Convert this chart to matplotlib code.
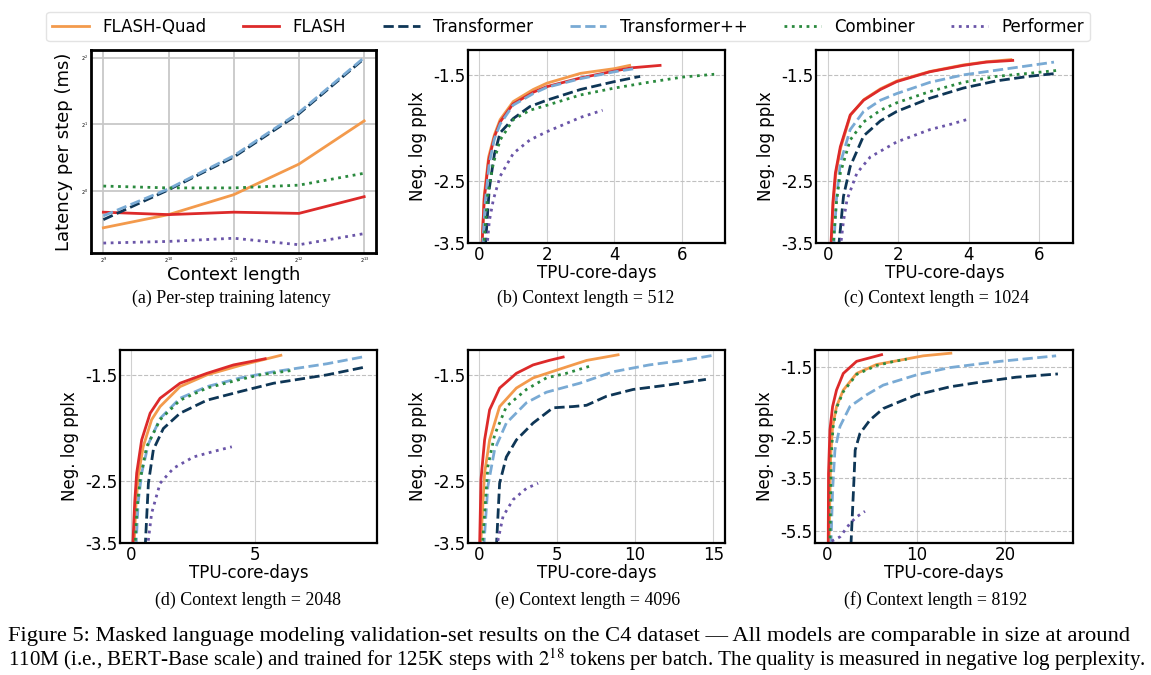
import numpy as np
import matplotlib.pyplot as plt
from matplotlib.lines import Line2D

plt.rcParams['axes.unicode_minus'] = False
plt.rcParams['mathtext.fontset'] = 'stix'

models = ['FLASH-Quad', 'FLASH', 'Transformer', 'Transformer++', 'Combiner', 'Performer']
colors = ['#f39a4c', '#dd2a2a', '#0e3656', '#79aad4', '#2a8a3e', '#6a55a8']
styles = ['-', '-', '--', '--', ':', ':']

# (a) latency per step (ms) vs context length
ctx_lens = [512, 1024, 2048, 4096, 8192]
latency = {
    'FLASH-Quad': [0.68, 0.78, 0.96, 1.32, 2.07],
    'FLASH': [0.80, 0.78, 0.80, 0.79, 0.94],
    'Transformer': [0.74, 1.01, 1.42, 2.23, 3.96],
    'Transformer++': [0.77, 1.02, 1.44, 2.26, 4.00],
    'Combiner': [1.05, 1.03, 1.03, 1.06, 1.20],
    'Performer': [0.58, 0.59, 0.61, 0.57, 0.64],
}

# (b)-(f) neg. log pplx vs TPU-core-days: model -> (x, y)
ctx512 = {
    'FLASH-Quad': ([0.08, 0.15, 0.28, 0.45, 0.62, 1.01, 1.6, 2.0, 3.0, 4.0, 4.45],
                   [-3.6, -2.7, -2.21, -1.98, -1.84, -1.69, -1.60, -1.556, -1.49, -1.46, -1.44]),
    'FLASH': ([0.08, 0.15, 0.28, 0.45, 0.62, 1.0, 1.6, 2.0, 3.0, 4.0, 4.5, 5.35],
              [-3.6, -2.75, -2.25, -2.0, -1.86, -1.71, -1.62, -1.58, -1.52, -1.475, -1.455, -1.44]),
    'Transformer': ([0.18, 0.3, 0.45, 0.62, 1.01, 1.5, 2.0, 3.0, 4.0, 4.76],
                    [-3.6, -2.6, -2.18, -1.96, -1.83, -1.73, -1.68, -1.60, -1.545, -1.51]),
    'Transformer++': ([0.1, 0.18, 0.3, 0.45, 0.62, 1.0, 1.6, 2.0, 3.0, 4.0, 4.6],
                      [-3.6, -2.8, -2.28, -2.02, -1.88, -1.72, -1.63, -1.585, -1.525, -1.48, -1.46]),
    'Combiner': ([0.13, 0.25, 0.42, 0.62, 1.01, 1.5, 2.0, 3.0, 4.0, 5.0, 6.0, 6.95],
                 [-3.6, -2.7, -2.28, -2.03, -1.84, -1.76, -1.72, -1.64, -1.59, -1.55, -1.515, -1.496]),
    'Performer': ([0.23, 0.3, 0.42, 0.62, 1.01, 1.5, 2.0, 3.0, 3.65],
                  [-3.6, -3.1, -2.76, -2.44, -2.17, -2.03, -1.95, -1.82, -1.76]),
}
ctx1024 = {
    'FLASH-Quad': ([0.1, 0.16, 0.23, 0.37, 0.65, 1.03, 1.5, 1.97, 2.9, 3.85, 4.5, 5.2],
                   [-3.6, -2.8, -2.41, -2.11, -1.80, -1.675, -1.595, -1.54, -1.478, -1.437, -1.418, -1.405]),
    'FLASH': ([0.09, 0.15, 0.22, 0.36, 0.64, 1.02, 1.5, 1.96, 2.9, 3.85, 4.5, 5.25],
              [-3.6, -2.8, -2.40, -2.10, -1.80, -1.68, -1.60, -1.545, -1.48, -1.44, -1.42, -1.41]),
    'Transformer': ([0.31, 0.45, 0.64, 1.02, 1.5, 1.96, 2.9, 3.85, 4.79, 5.7, 6.5],
                    [-3.6, -2.71, -2.32, -1.99, -1.85, -1.77, -1.665, -1.59, -1.54, -1.51, -1.49]),
    'Transformer++': ([0.17, 0.25, 0.36, 0.64, 1.02, 1.5, 1.96, 2.9, 3.85, 4.79, 5.6, 6.42],
                      [-3.6, -2.75, -2.28, -1.93, -1.77, -1.68, -1.63, -1.55, -1.50, -1.47, -1.445, -1.42]),
    'Combiner': ([0.15, 0.25, 0.36, 0.64, 1.02, 1.5, 1.96, 2.9, 3.85, 4.79, 5.7, 6.57],
                 [-3.6, -2.8, -2.40, -2.03, -1.86, -1.76, -1.70, -1.615, -1.55, -1.51, -1.49, -1.47]),
    'Performer': ([0.36, 0.45, 0.55, 0.83, 1.21, 1.96, 2.9, 3.5, 3.94],
                  [-3.6, -3.1, -2.76, -2.40, -2.21, -2.05, -1.93, -1.88, -1.84]),
}
ctx2048 = {
    'FLASH-Quad': ([0.13, 0.2, 0.3, 0.5, 0.84, 1.18, 1.98, 3.06, 4.4, 5.2, 6.03],
                   [-3.6, -2.9, -2.44, -2.10, -1.84, -1.73, -1.58, -1.50, -1.44, -1.41, -1.38]),
    'FLASH': ([0.08, 0.16, 0.24, 0.44, 0.78, 1.18, 1.98, 3.06, 4.13, 5.4],
              [-3.6, -2.8, -2.40, -2.03, -1.785, -1.665, -1.556, -1.49, -1.437, -1.40]),
    'Transformer': ([0.58, 0.71, 0.91, 1.31, 1.98, 3.06, 4.4, 5.74, 7.88, 9.42],
                    [-3.6, -2.53, -2.13, -1.92, -1.785, -1.68, -1.615, -1.556, -1.50, -1.45]),
    'Transformer++': ([0.21, 0.3, 0.44, 0.71, 1.18, 1.98, 3.06, 4.4, 5.74, 7.88, 9.29],
                      [-3.6, -2.8, -2.40, -2.07, -1.83, -1.665, -1.58, -1.52, -1.48, -1.43, -1.39]),
    'Combiner': ([0.17, 0.25, 0.38, 0.64, 1.18, 1.98, 3.06, 4.4, 5.2, 6.54],
                 [-3.6, -2.9, -2.48, -2.10, -1.84, -1.68, -1.59, -1.53, -1.50, -1.47]),
    'Performer': ([0.67, 0.84, 1.18, 1.72, 2.52, 3.32, 4.06],
                  [-3.6, -2.97, -2.53, -2.34, -2.21, -2.15, -2.10]),
}
ctx4096 = {
    'FLASH-Quad': ([0.12, 0.38, 0.70, 1.34, 2.41, 3.48, 4.97, 6.89, 8.91],
                   [-3.6, -2.40, -2.03, -1.73, -1.59, -1.52, -1.47, -1.41, -1.377]),
    'FLASH': ([0.06, 0.15, 0.38, 0.70, 1.34, 2.41, 3.48, 4.5, 5.4],
              [-3.6, -2.48, -2.03, -1.757, -1.59, -1.49, -1.437, -1.41, -1.39]),
    'Transformer': ([1.13, 1.34, 1.77, 2.41, 3.48, 4.75, 6.03, 6.89, 8.17, 9.87, 12.0, 14.52],
                    [-3.6, -2.53, -2.21, -2.03, -1.87, -1.74, -1.73, -1.72, -1.65, -1.60, -1.57, -1.53]),
    'Transformer++': ([0.32, 0.59, 1.02, 1.77, 3.05, 4.33, 6.46, 8.59, 10.9, 13.07, 15.0],
                      [-3.6, -2.57, -2.13, -1.87, -1.70, -1.62, -1.556, -1.48, -1.437, -1.41, -1.38]),
    'Combiner': ([0.23, 0.59, 1.02, 1.77, 3.05, 4.33, 5.6, 7.1],
                 [-3.6, -2.32, -1.98, -1.73, -1.60, -1.52, -1.49, -1.445]),
    'Performer': ([1.13, 1.56, 2.2, 3.05, 3.8],
                  [-3.6, -3.02, -2.76, -2.60, -2.53]),
}
ctx8192 = {
    'FLASH-Quad': ([0.15, 0.34, 0.56, 1.0, 1.76, 3.26, 5.5, 8.1, 10.75, 13.86],
                   [-6.3, -2.92, -2.30, -1.98, -1.76, -1.57, -1.48, -1.44, -1.40, -1.377]),
    'FLASH': ([0.07, 0.1, 0.26, 0.56, 1.0, 1.76, 3.26, 6.07],
              [-6.3, -3.36, -2.36, -1.98, -1.76, -1.57, -1.45, -1.39]),
    'Transformer': ([2.62, 2.96, 3.1, 3.63, 4.76, 6.25, 8.13, 10.0, 13.75, 17.5, 21.2, 25.9],
                    [-6.3, -3.55, -2.77, -2.43, -2.19, -2.01, -1.91, -1.82, -1.72, -1.66, -1.61, -1.575]),
    'Transformer++': ([0.37, 0.56, 0.82, 1.39, 2.51, 4.38, 6.25, 10.0, 13.75, 19.4, 25.7],
                      [-6.3, -3.86, -2.77, -2.30, -1.98, -1.82, -1.70, -1.585, -1.51, -1.45, -1.40]),
    'Combiner': ([0.26, 0.4, 0.6, 1.0, 1.76, 3.26, 5.5, 7.5, 8.9],
                 [-6.3, -2.95, -2.33, -2.0, -1.78, -1.58, -1.49, -1.45, -1.43]),
    'Performer': ([0.45, 1.39, 2.5, 3.26, 4.2],
                  [-6.05, -5.82, -5.17, -4.87, -4.64]),
}

W, H = 1151, 675
fig = plt.figure(figsize=(W / 100, H / 100), dpi=100)


def px_axes(x0, x1, y0, y1):
    return fig.add_axes([x0 / W, 1 - y1 / H, (x1 - x0) / W, (y1 - y0) / H])


def fwd(y):
    return -np.log(np.clip(-np.asarray(y) - 0.5, 1e-6, None))


def inv(t):
    return -0.5 - np.exp(-np.asarray(t))


# panel (a)
ax = px_axes(91, 376, 50, 253)
for m, c, s in zip(models, colors, styles):
    ax.plot(ctx_lens, latency[m], color=c, linestyle=s, lw=2)
ax.set_xscale('log', base=2)
ax.set_yscale('log', base=2)
ax.set_xlim(449, 9290)
ax.set_ylim(0.523, 4.33)
ax.set_xticks(ctx_lens)
ax.set_yticks([1, 2, 4])
ax.set_yticks([], minor=True)
ax.set_xticks([], minor=True)
ax.tick_params(labelsize=3.5, length=0, pad=2)
ax.grid(True, color='#c8c8c8', lw=1.3)
for sp in ax.spines.values():
    sp.set_linewidth(2)
ax.set_xlabel('Context length', fontsize=13, labelpad=1)
ax.set_ylabel('Latency per step (ms)', fontsize=13, labelpad=6)

panels = [
    (ctx512, (468, 725, 50, 243), (-0.33, 7.27), [0, 2, 4, 6], -3.5, [-3.5, -2.5, -1.5]),
    (ctx1024, (816, 1073, 50, 243), (-0.33, 6.96), [0, 2, 4, 6], -3.5, [-3.5, -2.5, -1.5]),
    (ctx2048, (120, 377, 350, 543), (-0.43, 9.89), [0, 5], -3.5, [-3.5, -2.5, -1.5]),
    (ctx4096, (468, 725, 350, 543), (-0.68, 15.74), [0, 5, 10, 15], -3.5, [-3.5, -2.5, -1.5]),
    (ctx8192, (815, 1073, 350, 543), (-1.42, 27.6), [0, 10, 20], -6.15, [-5.5, -3.5, -2.5, -1.5]),
]
for data, box, xl, xt, ymin, yt in panels:
    ax = px_axes(*box)
    for m, c, s in zip(models, colors, styles):
        xs, ys = data[m]
        ax.plot(xs, ys, color=c, linestyle=s, lw=2)
    ax.set_yscale('function', functions=(fwd, inv))
    ax.set_xlim(*xl)
    ax.set_ylim(ymin, -1.35)
    ax.set_xticks(xt)
    ax.set_yticks(yt)
    ax.set_yticks([], minor=True)
    ax.set_yticklabels([str(v) for v in yt])
    ax.tick_params(labelsize=12, length=0, pad=2)
    ax.xaxis.grid(True, color='#d0d0d0', lw=0.8)
    ax.yaxis.grid(True, color='#c0c0c0', lw=0.8, linestyle='--')
    for sp in ax.spines.values():
        sp.set_linewidth(1.6)
    ax.set_xlabel('TPU-core-days', fontsize=12, labelpad=0)
    ax.set_ylabel('Neg. log pplx', fontsize=12, labelpad=4)

handles = [Line2D([], [], color=c, linestyle=s, lw=2) for c, s in zip(colors, styles)]
fig.legend(handles, models, loc='upper center', bbox_to_anchor=(568 / W, 0.995),
           ncol=6, fontsize=12, frameon=True, edgecolor='#dddddd', fancybox=True,
           columnspacing=2.2, handlelength=2.2, borderpad=0.35)

serif = 'Liberation Serif'
caps = [('(a) Per-step training latency', 231, 298), ('(b) Context length = 512', 586, 298),
        ('(c) Context length = 1024', 936, 298), ('(d) Context length = 2048', 248, 600),
        ('(e) Context length = 4096', 588, 600), ('(f) Context length = 8192', 936, 600)]
for txt, cx, cy in caps:
    fig.text(cx / W, 1 - cy / H, txt, ha='center', va='center', fontsize=12.9, family=serif)

fig.text(8 / W, 1 - 637 / H,
         'Figure 5: Masked language modeling validation-set results on the C4 dataset \u2014 '
         'All models are comparable in size at around',
         ha='left', va='center', fontsize=16.2, family=serif)
fig.text(8 / W, 1 - 660 / H,
         '110M (i.e., BERT-Base scale) and trained for 125K steps with $2^{18}$ tokens per batch. '
         'The quality is measured in negative log perplexity.',
         ha='left', va='center', fontsize=15.1, family=serif)

fig.savefig('out.png', dpi=100)
